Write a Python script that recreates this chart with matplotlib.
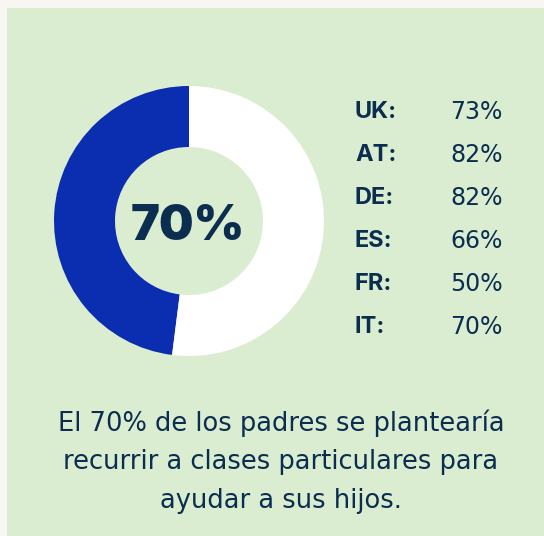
import matplotlib
matplotlib.use("Agg")
import matplotlib.pyplot as plt
from matplotlib.patches import Rectangle

# share shown in the ring and the headline figure
ring_values = [48, 52]
ring_colors = ["#0b2db0", "#ffffff"]
headline = "70%"

countries = ["UK:", "AT:", "DE:", "ES:", "FR:", "IT:"]
shares = [73, 82, 82, 66, 50, 70]

caption_lines = ["El 70% de los padres se plantearía",
                 "recurrir a clases particulares para",
                 "ayudar a sus hijos."]

navy = "#0b2d50"
panel = "#dbedd0"
W, H = 544, 536

fig = plt.figure(figsize=(W / 100, H / 100), dpi=100)
fig.patch.set_facecolor("#f7f6f2")
ax = fig.add_axes([0, 0, 1, 1])

ax.add_patch(Rectangle((7, 0), W - 7, H - 8, facecolor=panel, edgecolor="none", zorder=0))

cx, cy = 189, H - 221
ax.pie(ring_values, colors=ring_colors, startangle=90, counterclock=True,
       center=(cx, cy), radius=135, frame=True,
       wedgeprops=dict(width=61, edgecolor="none"))
ax.set_xlim(0, W)
ax.set_ylim(0, H)
ax.set_aspect("equal")
ax.axis("off")

ax.text(cx - 1, cy - 6, headline, ha="center", va="center", fontsize=35,
        fontweight="black", color=navy, family=["Inter", "DejaVu Sans"])

for i, (c, v) in enumerate(zip(countries, shares)):
    y = H - (112 + i * 43)
    ax.text(355, y, c, ha="left", va="center", fontsize=17, fontweight="bold",
            color=navy, family=["Inter", "DejaVu Sans"])
    ax.text(503, y, f"{v}%", ha="right", va="center", fontsize=17,
            color=navy, family="DejaVu Sans")

for i, line in enumerate(caption_lines):
    ax.text(281, H - (423 + i * 39), line, ha="center", va="center",
            fontsize=18.5, color=navy, family="DejaVu Sans")

fig.savefig("out.png", dpi=100, facecolor=fig.get_facecolor())
